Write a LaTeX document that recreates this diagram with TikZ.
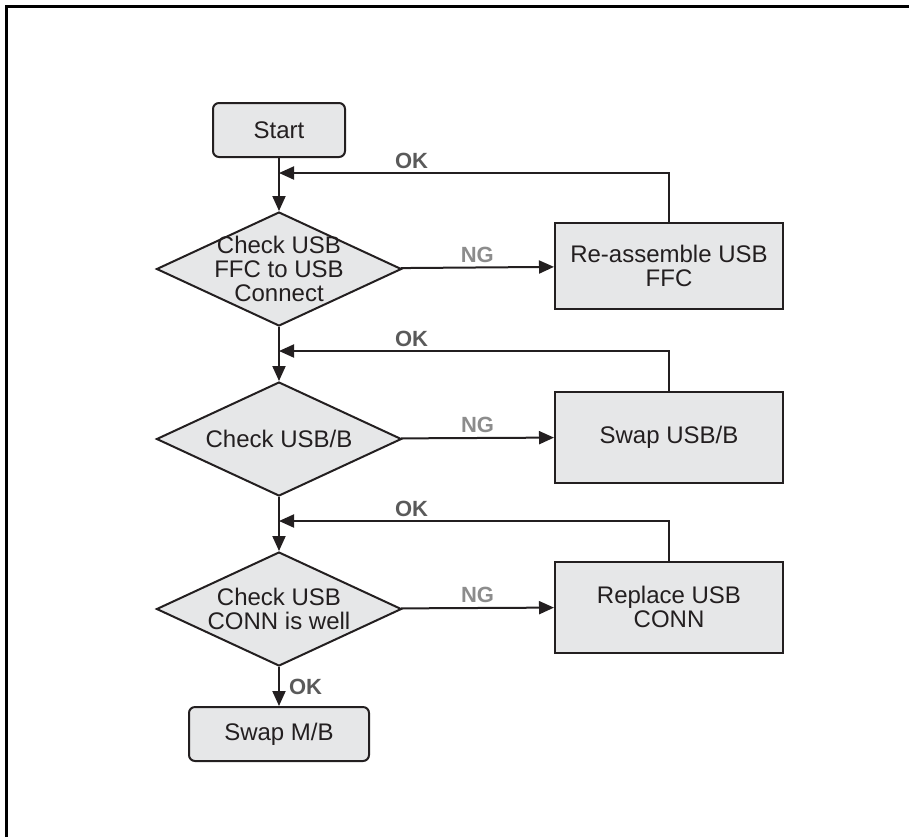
\documentclass[tikz,border=0pt]{standalone}
\usepackage{fontspec}
\setmainfont{Liberation Sans}
\usepackage{xcolor}
\usetikzlibrary{positioning,arrows.meta,shapes.geometric}

\definecolor{boxfill}{HTML}{E6E7E8}
\definecolor{inkline}{HTML}{231F20}
\definecolor{okgray}{HTML}{5A5A5A}
\definecolor{nggray}{HTML}{8C8C8C}

\begin{document}
\begin{tikzpicture}[
  x=0.5pt, y=-0.5pt,
  every node/.style={font=\fontsize{12}{12}\selectfont, text=inkline},
  endbox/.style={draw=inkline, line width=1pt, rounded corners=3pt, fill=boxfill, minimum width=#1, minimum height=27pt, inner sep=0pt},
  procbox/.style={draw=inkline, line width=1pt, fill=boxfill, minimum width=114pt, minimum height=#1, align=center, inner sep=0pt},
  decision/.style={diamond, draw=inkline, line width=1pt, fill=boxfill, minimum width=122.5pt, minimum height=57pt, inner sep=0pt},
  link/.style={-{Triangle[length=7.5pt, width=6.5pt]}, line width=1pt, draw=inkline},
  oklabel/.style={font=\fontsize{11}{11}\selectfont\bfseries, text=okgray, inner sep=1.5pt},
  nglabel/.style={font=\fontsize{11}{11}\selectfont\bfseries, text=nggray, inner sep=2pt}
]
  \useasboundingbox (0,0) rectangle (909,837);
  \draw[line width=1.5pt] (6.5,837) -- (6.5,6.5) -- (909,6.5);

  \node[endbox=66pt] (start) at (279,130) {Start};

  \node[decision, label={[align=center]center:Check USB\\FFC to USB\\Connect}] (chk1) at (279,269) {};
  \node[procbox=43pt] (fix1) at (669,266) {Re-assemble USB\\FFC};

  \node[decision, label={[align=center]center:Check USB/B}] (chk2) at (279,439) {};
  \node[procbox=45.5pt] (fix2) at (669,437) {Swap USB/B};

  \node[decision, label={[align=center]center:Check USB\\CONN is well}] (chk3) at (279,609) {};
  \node[procbox=45.5pt] (fix3) at (669,607) {Replace USB\\CONN};

  \node[endbox=90pt] (swapmb) at (279,734) {Swap M/B};

  \coordinate (back1) at (279,173);
  \coordinate (back2) at (279,351);
  \coordinate (back3) at (279,521);

  \draw[link] (start) -- (chk1);
  \draw[link] (chk1) -- (chk2);
  \draw[link] (chk2) -- (chk3);
  \draw[link] (chk3) -- node[oklabel, right=3pt] {OK} (swapmb);

  \draw[link] (chk1) -- node[nglabel, above] {NG} (fix1);
  \draw[link] (chk2) -- node[nglabel, above] {NG} (fix2);
  \draw[link] (chk3) -- node[nglabel, above] {NG} (fix3);

  \draw[link] (fix1.north) |- node[oklabel, pos=0.83, above] {OK} (back1);
  \draw[link] (fix2.north) |- node[oklabel, pos=0.83, above] {OK} (back2);
  \draw[link] (fix3.north) |- node[oklabel, pos=0.83, above] {OK} (back3);
\end{tikzpicture}
\end{document}
